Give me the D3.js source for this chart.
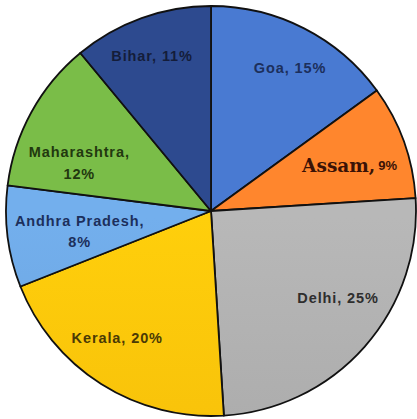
<!DOCTYPE html>
<html>
<head>
<meta charset="utf-8">
<script src="https://cdn.jsdelivr.net/npm/d3@7"></script>
<style>
html,body{margin:0;padding:0;background:#fff;}
svg{display:block;}
</style>
</head>
<body>
<svg id="chart" width="417" height="419"></svg>
<script>
const categories = ["Goa", "Assam", "Delhi", "Kerala", "Andhra Pradesh", "Maharashtra", "Bihar"];
const values = [15, 9, 25, 20, 8, 12, 11];
const colors = ["#4472C4", "#EF7D2A", "#ABABAB", "#FFC10A", "#6BA3DD", "#72B043", "#2A4585"];
const textColors = ["#1c2f5c", "#3a1206", "#2e2e2e", "#4a3a05", "#1c2f5c", "#22380f", "#141d3a"];

const W = 417, H = 419;
const cx = 211, cy = 211, R = 205;
const svg = d3.select("#chart");
const defs = svg.append("defs");

const data = categories.map((c, i) => ({name: c, value: values[i], color: colors[i], tc: textColors[i]}));

data.forEach((d, i) => {
  const g = defs.append("linearGradient").attr("id", "g" + i)
    .attr("gradientUnits", "userSpaceOnUse")
    .attr("x1", 0).attr("y1", cy - R).attr("x2", 0).attr("y2", cy + R);
  const c = d3.color(d.color);
  g.append("stop").attr("offset", 0).attr("stop-color", c.brighter(0.2));
  g.append("stop").attr("offset", 1).attr("stop-color", c.darker(0.15));
});

const pie = d3.pie().sort(null).value(d => d.value);
const arc = d3.arc().innerRadius(0).outerRadius(R);
const arcs = pie(data);

const g = svg.append("g").attr("transform", `translate(${cx},${cy})`);
g.selectAll("path.slice").data(arcs).enter().append("path")
  .attr("class", "slice")
  .attr("d", arc)
  .attr("fill", (d, i) => `url(#g${i})`)
  .attr("stroke", "#111")
  .attr("stroke-width", 1.8)
  .attr("stroke-linejoin", "round");

const labelR = [163, 146, 154, 158, 133, 140, 166];
const labelShift = [2, 1.5, -7, 4, -2, -9, -1];
arcs.forEach((a, i) => {
  const mid = (a.startAngle + a.endAngle) / 2 + labelShift[i] * Math.PI / 180;
  const x = Math.sin(mid) * labelR[i];
  const y = -Math.cos(mid) * labelR[i];
  const d = a.data;
  const t = g.append("text")
    .attr("x", x).attr("y", y)
    .attr("text-anchor", "middle")
    .attr("font-family", "'Liberation Sans', Arial, sans-serif")
    .attr("font-weight", "bold")
    .attr("font-size", 14.5)
    .attr("letter-spacing", 0.9)
    .attr("fill", d.tc);
  if (d.name === "Assam") {
    t.attr("dominant-baseline", "central");
    t.append("tspan").attr("font-family", "'DejaVu Serif', 'Liberation Serif', serif")
      .attr("font-size", 18.5).attr("letter-spacing", 0).attr("font-weight", "bold").text(d.name + ",");
    t.append("tspan").attr("dx", 3).attr("font-size", 13).attr("letter-spacing", 0).text(d.value + "%");
  } else if (d.name.length > 10) {
    t.append("tspan").attr("x", x).attr("dy", "-0.45em").text(d.name + ",");
    t.append("tspan").attr("x", x).attr("dy", "1.5em").text(d.value + "%");
  } else {
    t.attr("dominant-baseline", "central").text(d.name + ", " + d.value + "%");
  }
});
</script>
</body>
</html>
